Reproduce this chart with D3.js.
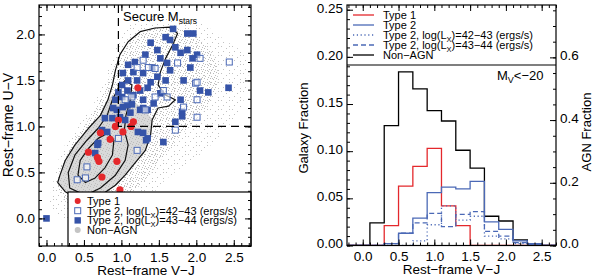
<!DOCTYPE html>
<html>
<head>
<meta charset="utf-8">
<script src="https://cdn.jsdelivr.net/npm/d3@7"></script>
<style>
body { margin: 0; background: #fff; }
svg { display: block; font-family: "Liberation Sans", Arial, Helvetica, sans-serif; }
.tick text { font-size: 13.5px; font-family: "Liberation Sans", Arial, Helvetica, sans-serif; fill: #000; }
.tick line { stroke: #000; stroke-width: 1; }
</style>
</head>
<body>
<svg id="chart" width="594" height="277"></svg>
<script>
// ---- left panel data (rest-frame V-J, U-V) ----
const type1Pts = [[1.22,1.42],[0.96,1.07],[1.16,1.05],[1.13,1.00],[0.92,1.00],[1.02,0.94],[0.72,0.93],
  [0.85,0.86],[0.56,0.72],[0.68,0.66],[0.70,0.62],[0.94,0.62],[0.74,0.45],[0.98,0.31]];
const type2LoPts = [[1.14,1.32],[1.36,1.64],[1.45,1.63],[1.21,1.64],[1.29,1.72],[1.56,1.39],[1.45,1.32],
  [1.61,1.32],[1.05,1.29],[1.83,1.21],[1.99,1.47],[2.01,1.10],[1.75,1.69],[2.05,1.74],[2.44,1.70],
  [2.01,1.48],[2.01,1.29],[1.32,1.18],[0.96,0.87],[1.21,0.74],[1.72,0.96],[0.52,0.44],[0.54,0.56],[0.41,0.42]];
const type2HiPts = [[1.69,2.06],[1.88,2.01],[1.96,2.01],[1.39,1.91],[1.48,1.83],[1.65,1.94],[1.72,1.86],
  [1.79,1.80],[1.52,1.74],[1.61,1.69],[1.41,1.64],[1.29,1.58],[1.16,1.59],[1.48,1.54],[1.35,1.42],
  [1.21,1.50],[1.25,1.39],[1.08,1.39],[1.01,1.32],[1.14,1.24],[1.02,1.21],[0.94,1.18],[0.98,1.10],
  [1.12,1.15],[1.29,1.29],[1.43,1.25],[1.52,1.36],[1.35,1.18],[1.01,1.45],[1.02,1.58],[1.09,1.50],
  [1.88,1.83],[1.92,1.64],[1.83,1.50],[2.01,1.78],[1.79,1.29],[1.95,1.74],[2.05,1.39],[2.16,1.37],
  [2.43,1.42],[1.81,1.16],[1.81,1.11],[1.72,1.05],[1.08,1.23],[1.29,1.20],[0.89,1.20],[1.22,0.94],
  [1.35,0.87],[1.56,0.83],[0.81,0.94],[0.74,0.96],[0.69,0.82],[0.65,0.71],[0.68,0.80],[1.33,0.85],
  [0.00,0.00],[1.59,1.97],[1.32,1.78],[1.18,1.70],[1.09,1.67],[1.39,1.48],[1.59,1.50],[1.65,1.61],
  [1.25,1.18],[1.16,1.34],[1.05,1.07],[0.92,1.29],[0.88,1.09],[0.78,1.09],[0.96,1.37],[1.29,0.93]];

// non-AGN cloud: outer (sparse) and inner (dense) envelopes, dense core and density contours
const cloudOuter = [[0.07,0.09],[0.11,0.47],[0.21,0.74],[0.38,0.96],[0.58,1.18],[0.72,1.39],[0.82,1.61],
  [0.92,1.83],[1.05,2.05],[1.25,2.18],[1.52,2.21],[1.79,2.18],[2.05,2.13],[2.38,1.94],[2.65,1.77],
  [2.69,1.50],[2.58,1.18],[2.38,0.96],[2.12,0.74],[1.85,0.58],[1.59,0.42],[1.39,0.25],[0.98,0.04],[0.45,-0.07]];
const cloudInner = [[0.15,0.36],[0.29,0.74],[0.51,1.01],[0.72,1.29],[0.88,1.61],[1.05,1.88],[1.32,2.05],
  [1.72,2.07],[2.05,1.94],[2.26,1.72],[2.26,1.39],[2.05,1.12],[1.79,0.90],[1.52,0.63],[1.25,0.36],
  [0.85,0.14],[0.38,0.09]];
const cloudCore = [[0.18,0.47],[0.25,0.63],[0.38,0.80],[0.56,0.98],[0.72,1.12],[0.82,1.29],[0.95,1.36],
  [1.20,1.25],[1.41,1.07],[1.39,0.91],[1.32,0.74],[1.18,0.60],[1.05,0.47],[0.92,0.36],[0.72,0.25],
  [0.45,0.20],[0.25,0.29],[0.15,0.39]];
const contourOuter = [[0.18,0.47],[0.25,0.63],[0.38,0.80],[0.56,0.98],[0.72,1.12],[0.82,1.29],[0.88,1.45],
  [0.92,1.61],[0.98,1.78],[1.09,1.92],[1.25,2.03],[1.45,2.07],[1.65,2.08],[1.75,2.01],[1.68,1.88],
  [1.59,1.74],[1.52,1.59],[1.49,1.45],[1.59,1.34],[1.72,1.29],[1.63,1.22],[1.49,1.20],[1.41,1.07],
  [1.39,0.91],[1.32,0.74],[1.18,0.60],[1.05,0.47],[0.92,0.36],[0.72,0.25],[0.45,0.20],[0.25,0.29],[0.15,0.39]];
const contourMid = [[0.31,0.33],[0.29,0.50],[0.38,0.69],[0.54,0.85],[0.69,0.98],[0.81,1.12],[0.88,1.29],
  [0.96,1.42],[1.05,1.50],[1.14,1.45],[1.12,1.29],[1.06,1.12],[1.04,0.96],[1.09,0.80],[1.05,0.63],
  [0.92,0.47],[0.72,0.33],[0.52,0.25]];
const contourInner = [[0.42,0.47],[0.45,0.63],[0.56,0.76],[0.69,0.87],[0.82,0.93],[0.90,0.85],[0.88,0.69],
  [0.78,0.55],[0.65,0.44],[0.52,0.39]];
const secureVJ = 0.96, secureUV = 1.0;

// ---- right panel data: histograms of V-J (galaxy fraction per 0.2 bin) ----
const binCenters = [-0.2,0.0,0.2,0.4,0.6,0.8,1.0,1.2,1.4,1.6,1.8,2.0,2.2,2.4,2.6];
const nonAgnFrac = [0,0,0.024,0.127,0.184,0.166,0.143,0.132,0.101,0.082,0.031,0.026,0.006,0.002,0];
const type1Frac  = [0,0,0,0.021,0.063,0.084,0.103,0.042,0.021,0,0,0,0,0,0];
const type2Frac  = [0,0,0,0.002,0.013,0.029,0.056,0.062,0.060,0.068,0.025,0.017,0.005,0.002,0];
const type2LoFrac = [0,0,0,0,0,0.005,0.022,0.042,0.027,0.031,0.010,0.007,0.002,0.001,0];
const type2HiFrac = [0,0,0,0.002,0.013,0.024,0.034,0.020,0.033,0.036,0.015,0.010,0.003,0.001,0];
const binWidth = 0.2;

const xTicks = [0, 0.5, 1, 1.5, 2, 2.5];
const xMinor = d3.range(-3, 28).map(i => i / 10);
const uvTicks = [0, 0.5, 1, 1.5, 2];
const uvMinor = d3.range(-3, 24).map(i => i / 10);
const galTicks = [0, 0.05, 0.10, 0.15, 0.20, 0.25];
const galMinor = d3.range(0, 26).map(i => i / 100);
const agnTicks = [0, 0.2, 0.4, 0.6];
const agnMinor = d3.range(0, 16).map(i => i * 0.05);

const RED = "#e4282c", BLUE = "#3553a8", BLUE_L = "#4b69b6", GRAY = "#c4c4c4";

const svg = d3.select("#chart");
const defs = svg.append("defs");

// speckle patterns for the non-AGN cloud
const sparse = defs.append("pattern").attr("id", "sparse").attr("patternUnits", "userSpaceOnUse")
  .attr("width", 11).attr("height", 9);
[[1,1],[6,3],[3,6],[9,7],[9,1]].forEach(p =>
  sparse.append("rect").attr("x", p[0]).attr("y", p[1]).attr("width", 1).attr("height", 1).attr("fill", "#c2c2c2"));
const dense = defs.append("pattern").attr("id", "dense").attr("patternUnits", "userSpaceOnUse")
  .attr("width", 6).attr("height", 6);
[[0,0],[3,1],[5,3],[1,4],[4,5]].forEach(p =>
  dense.append("rect").attr("x", p[0]).attr("y", p[1]).attr("width", 1).attr("height", 1).attr("fill", "#bcbcbc"));

function subText(sel, parts, subSize) {
  parts.forEach(p => {
    if (p.sub) sel.append("tspan").attr("font-size", subSize).attr("dy", 3).text(p.t);
    else sel.append("tspan").attr("dy", p.after ? -3 : 0).text(p.t);
  });
}

function axes(g, xs, ys, box, opt) {
  const minor = xMinor.filter(v => v >= xs.domain()[0] && v <= xs.domain()[1]);
  g.append("g").attr("transform", `translate(0,${box.y1})`)
    .call(d3.axisBottom(xs).tickValues(xTicks).tickSize(-6).tickPadding(6).tickFormat(d3.format(".1f")));
  g.append("g").attr("transform", `translate(0,${box.y1})`)
    .call(d3.axisBottom(xs).tickValues(minor).tickSize(-3).tickFormat(""));
  g.append("g").attr("transform", `translate(0,${box.y0})`)
    .call(d3.axisTop(xs).tickValues(xTicks).tickSize(-6).tickFormat(""));
  g.append("g").attr("transform", `translate(0,${box.y0})`)
    .call(d3.axisTop(xs).tickValues(minor).tickSize(-3).tickFormat(""));
  g.append("g").attr("class", "yl").attr("transform", `translate(${box.x0},0)`)
    .call(d3.axisLeft(ys).tickValues(opt.yTicks).tickSize(-6).tickPadding(4).tickFormat(d3.format(opt.yFmt)));
  g.append("g").attr("transform", `translate(${box.x0},0)`)
    .call(d3.axisLeft(ys).tickValues(opt.yMinor).tickSize(-3).tickFormat(""));
  const yr = opt.y2 || ys;
  g.append("g").attr("class", "yr").attr("transform", `translate(${box.x1},0)`)
    .call(d3.axisRight(yr).tickValues(opt.y2Ticks || opt.yTicks).tickSize(-6).tickPadding(4)
      .tickFormat(opt.y2 ? d3.format(".1f") : ""));
  g.append("g").attr("transform", `translate(${box.x1},0)`)
    .call(d3.axisRight(yr).tickValues(opt.y2Minor || opt.yMinor).tickSize(-3).tickFormat(""));
  g.selectAll(".domain").remove();
  if (opt.labelShift) g.selectAll(".yl text, .yr text").attr("y", -opt.labelShift);
  g.append("rect").attr("x", box.x0).attr("y", box.y0)
    .attr("width", box.x1 - box.x0).attr("height", box.y1 - box.y0)
    .attr("fill", "none").attr("stroke", "#000").attr("stroke-width", 1.2);
}

// ================= left panel =================
const L = { x0: 39, x1: 251, y0: 5, y1: 246 };
const xL = d3.scaleLinear().domain([-0.1, 2.73]).range([L.x0, L.x1]);
const yL = d3.scaleLinear().domain([-0.3, 2.32]).range([L.y1, L.y0]);
defs.append("clipPath").attr("id", "clipL").append("rect")
  .attr("x", L.x0).attr("y", L.y0).attr("width", L.x1 - L.x0).attr("height", L.y1 - L.y0);

const left = svg.append("g");
const plotL = left.append("g").attr("clip-path", "url(#clipL)");
const poly = d3.line().x(d => xL(d[0])).y(d => yL(d[1])).curve(d3.curveCatmullRomClosed.alpha(0.5));
const jag = d3.line().x(d => xL(d[0])).y(d => yL(d[1])).curve(d3.curveLinearClosed);

plotL.append("path").attr("d", poly(cloudOuter)).attr("fill", "url(#sparse)");
plotL.append("path").attr("d", poly(cloudInner)).attr("fill", "url(#dense)");
plotL.append("path").attr("d", poly(cloudCore)).attr("fill", "#d9d9d9");
plotL.append("path").attr("d", poly(contourOuter)).attr("fill", "url(#dense)");
[contourOuter, contourMid, contourInner].forEach(c =>
  plotL.append("path").attr("d", jag(c)).attr("fill", "none").attr("stroke", "#111")
    .attr("stroke-width", 1.2).attr("stroke-linejoin", "round"));

plotL.selectAll("rect.hi").data(type2HiPts).enter().append("rect").attr("class", "hi")
  .attr("x", d => xL(d[0]) - 3.3).attr("y", d => yL(d[1]) - 3.3)
  .attr("width", 6.6).attr("height", 6.6).attr("fill", BLUE);
plotL.selectAll("rect.lo").data(type2LoPts).enter().append("rect").attr("class", "lo")
  .attr("x", d => xL(d[0]) - 3).attr("y", d => yL(d[1]) - 3)
  .attr("width", 6).attr("height", 6).attr("fill", "#fff").attr("fill-opacity", 0.6)
  .attr("stroke", BLUE_L).attr("stroke-width", 1);
plotL.selectAll("circle.t1").data(type1Pts).enter().append("circle").attr("class", "t1")
  .attr("cx", d => xL(d[0])).attr("cy", d => yL(d[1])).attr("r", 3.6).attr("fill", RED);

// secure stellar mass region
plotL.append("path")
  .attr("d", `M${xL(secureVJ)},${L.y0}V${yL(secureUV)}H${L.x1}`)
  .attr("fill", "none").attr("stroke", "#000").attr("stroke-width", 1.2).attr("stroke-dasharray", "8,5");
const sec = left.append("text").attr("x", 123).attr("y", 21).attr("font-size", 13);
subText(sec, [{ t: "Secure M" }, { t: "stars", sub: true }], 8.5);

// legend
const legL = left.append("g");
legL.append("rect").attr("x", 68).attr("y", 192).attr("width", L.x1 - 68).attr("height", L.y1 - 192)
  .attr("fill", "#fff").attr("stroke", "#000").attr("stroke-width", 1.2);
const legRowsL = [
  { y: 201, parts: [{ t: "Type 1" }], sym: "t1" },
  { y: 210.7, parts: [{ t: "Type 2, log(L" }, { t: "X", sub: true }, { t: ")=42−43 (ergs/s)", after: true }], sym: "lo" },
  { y: 220.4, parts: [{ t: "Type 2, log(L" }, { t: "X", sub: true }, { t: ")=43−44 (ergs/s)", after: true }], sym: "hi" },
  { y: 230, parts: [{ t: "Non−AGN" }], sym: "non" }
];
legRowsL.forEach(r => {
  if (r.sym === "t1") legL.append("circle").attr("cx", 77.7).attr("cy", r.y).attr("r", 3).attr("fill", RED);
  if (r.sym === "non") legL.append("circle").attr("cx", 77.7).attr("cy", r.y).attr("r", 3).attr("fill", GRAY);
  if (r.sym === "lo") legL.append("rect").attr("x", 74.7).attr("y", r.y - 3).attr("width", 6).attr("height", 6)
    .attr("fill", "none").attr("stroke", BLUE_L);
  if (r.sym === "hi") legL.append("rect").attr("x", 74.5).attr("y", r.y - 3.2).attr("width", 6.4).attr("height", 6.4)
    .attr("fill", BLUE);
  const t = legL.append("text").attr("x", 87).attr("y", r.y + 3.8).attr("font-size", 11);
  subText(t, r.parts, 7.5);
});

axes(left, xL, yL, L, { yTicks: uvTicks, yMinor: uvMinor, yFmt: ".1f" });
left.append("text").attr("x", (L.x0 + L.x1) / 2 + 1).attr("y", 274.5).attr("text-anchor", "middle")
  .attr("font-size", 13.5).text("Rest−frame V−J");
left.append("text").attr("transform", "translate(13,125) rotate(-90)").attr("text-anchor", "middle")
  .attr("font-size", 14).text("Rest−frame U−V");

// ================= right panel =================
const R = { x0: 347, x1: 556, y0: 5, y1: 245.5 };
const xR = d3.scaleLinear().domain([-0.22, 2.7]).range([R.x0, R.x1]);
const yR = d3.scaleLinear().domain([0, 0.255]).range([R.y1, R.y0]);
const yR2 = d3.scaleLinear().domain([0, 0.767]).range([R.y1, R.y0]);
defs.append("clipPath").attr("id", "clipR").append("rect")
  .attr("x", R.x0).attr("y", R.y0).attr("width", R.x1 - R.x0).attr("height", R.y1 - R.y0);

const right = svg.append("g");
const plotR = right.append("g").attr("clip-path", "url(#clipR)");

const step = d3.line().x(d => xR(d[0])).y(d => yR(d[1]));
function stepPts(vals) {
  const pts = [];
  binCenters.forEach((c, i) => { pts.push([c - binWidth / 2, vals[i]]); pts.push([c + binWidth / 2, vals[i]]); });
  return pts;
}
const hists = [
  { v: nonAgnFrac, color: "#000", dash: null },
  { v: type1Frac, color: RED, dash: null },
  { v: type2Frac, color: BLUE_L, dash: null },
  { v: type2LoFrac, color: BLUE_L, dash: "1.2,2.6" },
  { v: type2HiFrac, color: BLUE_L, dash: "5,3" }
];
hists.forEach(h => plotR.append("path").attr("d", step(stepPts(h.v)))
  .attr("fill", "none").attr("stroke", h.color).attr("stroke-width", 1.3).attr("stroke-dasharray", h.dash));

// legend block at top
right.append("line").attr("x1", R.x0).attr("x2", R.x1).attr("y1", 65).attr("y2", 65)
  .attr("stroke", "#000").attr("stroke-width", 1.2);
const legRowsR = [
  { y: 15, color: RED, dash: null, parts: [{ t: "Type 1" }] },
  { y: 25, color: BLUE_L, dash: null, parts: [{ t: "Type 2" }] },
  { y: 35, color: BLUE_L, dash: "1.2,2.6", parts: [{ t: "Type 2, log(L" }, { t: "X", sub: true }, { t: ")=42−43 (ergs/s)", after: true }] },
  { y: 45, color: BLUE_L, dash: "5,3", parts: [{ t: "Type 2, log(L" }, { t: "X", sub: true }, { t: ")=43−44 (ergs/s)", after: true }] },
  { y: 55, color: "#000", dash: null, parts: [{ t: "Non−AGN" }] }
];
legRowsR.forEach(r => {
  right.append("line").attr("x1", 353).attr("x2", 374).attr("y1", r.y).attr("y2", r.y)
    .attr("stroke", r.color).attr("stroke-width", 1.3).attr("stroke-dasharray", r.dash);
  const t = right.append("text").attr("x", 383).attr("y", r.y + 3.8).attr("font-size", 11);
  subText(t, r.parts, 7.5);
});
const mv = right.append("text").attr("x", 497).attr("y", 80).attr("font-size", 13);
subText(mv, [{ t: "M" }, { t: "V", sub: true }, { t: "<−20", after: true }], 9);

axes(right, xR, yR, R, { yTicks: galTicks, yMinor: galMinor, yFmt: ".2f", y2: yR2, y2Ticks: agnTicks, y2Minor: agnMinor, labelShift: 2 });
right.append("text").attr("x", (R.x0 + R.x1) / 2).attr("y", 274).attr("text-anchor", "middle")
  .attr("font-size", 13.5).text("Rest−frame V−J");
right.append("text").attr("transform", "translate(308,128) rotate(-90)").attr("text-anchor", "middle")
  .attr("font-size", 13).text("Galaxy Fraction");
right.append("text").attr("transform", "translate(591,132) rotate(-90)").attr("text-anchor", "middle")
  .attr("font-size", 13).text("AGN Fraction");
</script>
</body>
</html>
